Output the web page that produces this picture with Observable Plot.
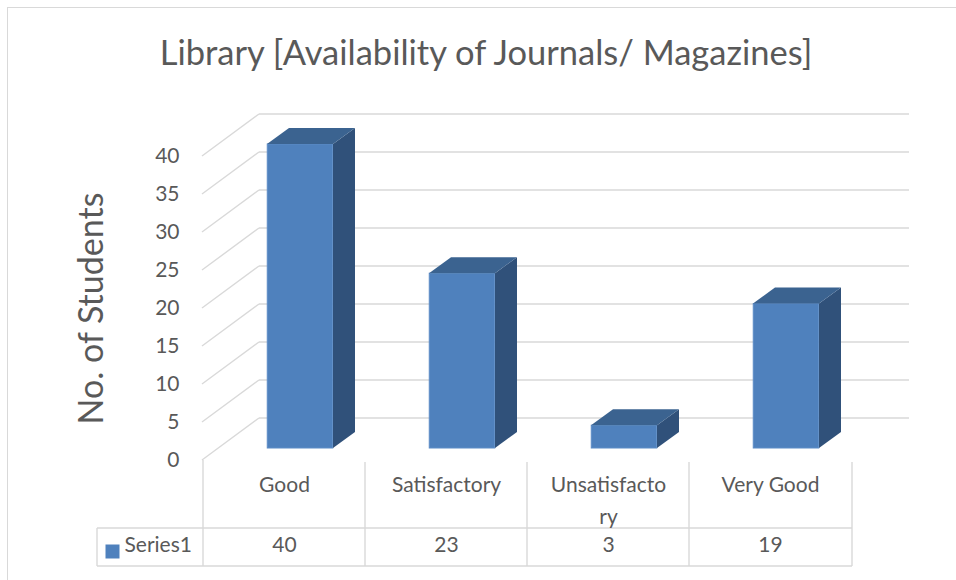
<!DOCTYPE html>
<html>
<head>
<meta charset="utf-8">
<script src="https://cdn.jsdelivr.net/npm/d3@7"></script>
<script src="https://cdn.jsdelivr.net/npm/@observablehq/plot@0.6"></script>
<style>
  body { margin: 0; background: #fff; }
  #wrap { position: relative; width: 956px; height: 580px; overflow: hidden; font-family: Lato, "Open Sans", sans-serif; color: #595959; background: #fff; }
  #frame { position: absolute; left: 7px; top: 7px; width: 1200px; height: 1200px; border-left: 1.5px solid #d9d9d9; border-top: 1.5px solid #d9d9d9; }
  #title { position: absolute; left: 8px; top: 32px; width: 956px; text-align: center; font-size: 34.5px; line-height: 40px; white-space: nowrap; }
  #chart { position: absolute; left: 0; top: 90px; }
</style>
</head>
<body>
<div id="wrap">
  <div id="frame"></div>
  <div id="title"></div>
  <div id="chart"></div>
</div>
<script>
// ---- data ----
const titleText = "Library [Availability of Journals/ Magazines]";
const yTitle = "No. of Students";
const seriesName = "Series1";
const categories = ["Good", "Satisfactory", "Unsatisfactory", "Very Good"];
const categoryLabels = ["Good", "Satisfactory", "Unsatisfacto\nry", "Very Good"];
const values = [40, 23, 3, 19];
const yTicks = [0, 5, 10, 15, 20, 25, 30, 35, 40];

// ---- styling ----
const colors = { front: "#4f81bd", frontEdge: "#5d8cc6", side: "#30517a", top: "#3b6390", grid: "#d9d9d9", text: "#595959" };
const W = 956, H = 490;
const xRange = [202, 852];
const yRange = [370, 66];
const wallDepth = [57, -42];
const barShift = [16, -12];
const barDepth = [22, -16];
const barWidth = 66;
const barInset = ((xRange[1] - xRange[0]) / categories.length - barWidth) / 2;
const fs = 21;

const data = categories.map((c, i) => ({ category: c, label: categoryLabels[i], value: values[i] }));

document.getElementById("title").textContent = titleText;

function line(g, x1, y1, x2, y2, color, w) {
  g.append("line").attr("x1", x1).attr("y1", y1).attr("x2", x2).attr("y2", y2)
    .attr("stroke", color).attr("stroke-width", w);
}

// back wall + side wall gridlines (oblique 3D)
const gridMark = (index, scales) => {
  const { x, y } = scales;
  const g = d3.create("svg:g");
  const [x0, x1] = x.range();
  const [wx, wy] = wallDepth;
  for (const t of yTicks) {
    const yy = y(t);
    line(g, x0, yy, x0 + wx, yy + wy, colors.grid, 1.4);
    line(g, x0 + wx, yy + wy, x1 + wx, yy + wy, colors.grid, 1.4);
  }
  return g.node();
};

// data table grid lines
const tableMark = (index, scales) => {
  const { x, y } = scales;
  const g = d3.create("svg:g");
  const [x0, x1] = x.range();
  const yTop = y(0);
  const rowSplit = yTop + 68, rowBottom = yTop + 106;
  const legendLeft = x0 - 105;
  categories.forEach((c, i) => line(g, x(c), yTop + (i === 0 ? 0 : 2), x(c), rowBottom, colors.grid, 1.4));
  line(g, x1, yTop + 2, x1, rowBottom, colors.grid, 1.4);
  line(g, legendLeft, rowSplit, x1, rowSplit, colors.grid, 1.4);
  line(g, legendLeft, rowBottom, x1, rowBottom, colors.grid, 1.4);
  line(g, legendLeft, rowSplit, legendLeft, rowBottom, colors.grid, 1.4);
  return g.node();
};

// side and top faces of the 3D bars
const facesMark = (index, scales) => {
  const { x, y } = scales;
  const g = d3.create("svg:g");
  const bw = x.bandwidth();
  const [sx, sy] = barShift, [bx, by] = barDepth;
  for (const d of data) {
    const xl = x(d.category) + (bw - barWidth) / 2 + sx;
    const xr = xl + barWidth;
    const yt = y(d.value) + sy, yb = y(0) + sy;
    g.append("polygon")
      .attr("points", [[xr, yb], [xr + bx, yb + by], [xr + bx, yt + by], [xr, yt]].join(" "))
      .attr("fill", colors.side);
    g.append("polygon")
      .attr("points", [[xl, yt], [xl + bx, yt + by], [xr + bx, yt + by], [xr, yt]].join(" "))
      .attr("fill", colors.top);
  }
  return g.node();
};

const chart = Plot.plot({
  width: W,
  height: H,
  marginLeft: 182,
  marginRight: W - xRange[1],
  marginTop: yRange[1],
  marginBottom: H - yRange[0],
  style: { fontFamily: "Lato, 'Open Sans', sans-serif", fontSize: fs + "px", color: colors.text, background: "transparent", overflow: "visible" },
  x: { type: "band", domain: categories, range: xRange, padding: 0, axis: null },
  y: { type: "linear", domain: [0, 40], range: yRange, axis: null },
  marks: [
    gridMark,
    tableMark,
    Plot.barY(data, { x: "category", y: "value", fill: colors.front, stroke: colors.frontEdge, strokeWidth: 1, insetLeft: barInset, insetRight: barInset, dx: barShift[0], dy: barShift[1] }),
    facesMark,
    // y tick labels
    Plot.text(yTicks, { y: d => d, text: d => String(d), frameAnchor: "left", textAnchor: "end", dx: -3, fontSize: fs }),
    // y axis title
    Plot.text([yTitle], { y: [20], text: d => d, frameAnchor: "left", textAnchor: "middle", dx: -90, rotate: -90, fontSize: 34 }),
    // category labels (table header)
    Plot.text(data, { x: "category", text: "label", frameAnchor: "bottom", textAnchor: "middle", lineAnchor: "top", lineHeight: 1.52, dy: 9, fontSize: fs }),
    // values row
    Plot.text(data, { x: "category", text: d => String(d.value), frameAnchor: "bottom", textAnchor: "middle", dy: 91, fontSize: fs }),
    // legend key in table
    Plot.dot([seriesName], { frameAnchor: "bottom-left", dx: -70, dy: 91, symbol: "square", r: 7.9, fill: colors.front, stroke: null }),
    Plot.text([seriesName], { text: d => d, frameAnchor: "bottom-left", textAnchor: "start", dx: -58, dy: 91, fontSize: fs })
  ]
});
document.getElementById("chart").appendChild(chart);
</script>
</body>
</html>
